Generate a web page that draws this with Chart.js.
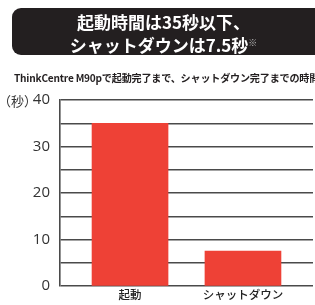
<!DOCTYPE html>
<html><head><meta charset="utf-8">
<script src="https://cdn.jsdelivr.net/npm/chart.js@4/dist/chart.umd.min.js"></script>
<style>
html,body{margin:0;padding:0;width:315px;height:305px;overflow:hidden;background:#fff;font-family:"Noto Sans","Noto Sans CJK JP",sans-serif;}
#wrap{position:relative;width:315px;height:305px;}
#c{position:absolute;left:0;top:0;}
#title{position:absolute;left:12px;top:8px;width:320px;height:47px;background:#231f20;border-radius:9px;color:#fff;font-family:"Noto Sans CJK JP",sans-serif;font-weight:bold;font-size:17px;line-height:21px;padding-top:3px;box-sizing:border-box;}
#title div{position:absolute;left:0;width:303px;text-align:center;}
#sub{position:absolute;left:14px;top:70px;white-space:nowrap;font-family:"Noto Sans CJK JP",sans-serif;font-weight:bold;font-size:10.1px;color:#231f20;letter-spacing:-0.2px;}
sup{font-size:9px;color:#bbb;vertical-align:6px;}
</style></head>
<body><div id="wrap">
<canvas id="c" width="315" height="305"></canvas>
<div id="title"><div style="top:3px">起動時間は35秒以下、</div><div style="top:24px">シャットダウンは7.5秒<sup>※</sup></div></div>
<div id="sub">ThinkCentre M90pで起動完了まで、シャットダウン完了までの時間</div>
</div>
<script>
const categories = ["起動", "シャットダウン"];
const seconds = [35, 7.5];
const yTicks = [0, 10, 20, 30, 40];
const unitLabel = "（秒）";

const unitPlugin = {
  id: 'unit',
  afterDraw(chart) {
    const ctx = chart.ctx, y = chart.scales.y;
    ctx.save();
    ctx.font = '13px "Noto Sans CJK JP"';
    ctx.fillStyle = '#333';
    ctx.textAlign = 'left';
    ctx.textBaseline = 'middle';
    ctx.fillText(unitLabel, -2, y.getPixelForValue(40) + 1);
    ctx.restore();
  }
};

new Chart(document.getElementById('c'), {
  type: 'bar',
  data: {
    datasets: [{
      data: categories.map((c, i) => ({x: i, y: seconds[i]})),
      backgroundColor: '#ee4136',
      borderWidth: 0,
      barThickness: 76
    }]
  },
  options: {
    responsive: false,
    animation: false,
    events: [],
    layout: {padding: {top: 100, right: 2, left: 0, bottom: 0}},
    plugins: {legend: {display: false}, tooltip: {enabled: false}},
    scales: {
      x: {
        type: 'linear', min: -0.62, max: 1.62, offset: false,
        afterBuildTicks(s) { s.ticks = categories.map((c, i) => ({value: i})); },
        afterFit(s) { s.height = 16; },
        grid: {display: false, drawTicks: false, offset: false},
        border: {display: false},
        ticks: {
          padding: 2,
          color: '#222',
          font: {family: '"Noto Sans CJK JP"', size: 11.5, weight: '500'},
          callback: (v) => categories[v] ?? ''
        }
      },
      y: {
        min: 0, max: 40,
        afterFit(s) { s.width = 60; },
        afterBuildTicks(s) { s.ticks = [0,5,10,15,20,25,30,35,40].map(v => ({value: v})); },
        grid: {color: '#4a4a4a', lineWidth: 1.4, drawTicks: false},
        border: {color: '#4a4a4a', width: 1.6},
        ticks: {
          padding: 10,
          color: '#333',
          font: {family: '"Open Sans"', size: 15},
          callback: (v) => yTicks.includes(v) ? String(v) : ''
        }
      }
    }
  },
  plugins: [unitPlugin]
});
</script>
</body></html>
